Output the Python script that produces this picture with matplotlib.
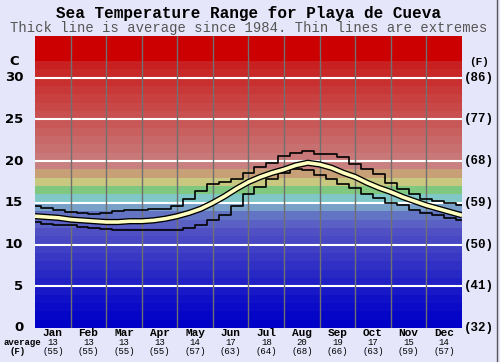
import matplotlib.pyplot as plt
import numpy as np

months = ['Jan', 'Feb', 'Mar', 'Apr', 'May', 'Jun', 'Jul', 'Aug', 'Sep', 'Oct', 'Nov', 'Dec']
avg_c = [13, 13, 13, 13, 14, 17, 18, 20, 19, 17, 15, 14]
avg_f = [55, 55, 55, 55, 57, 63, 64, 68, 66, 63, 59, 57]
c_ticks = [0, 5, 10, 15, 20, 25, 30]
f_ticks = [32, 41, 50, 59, 68, 77, 86]

# curves sampled every third of a month (month units 0..12)
avg_line = [13.4, 13.3, 13.2, 13.0, 12.9, 12.8, 12.7, 12.7, 12.8, 12.8, 12.9, 13.1,
            13.4, 13.8, 14.3, 15.0, 15.8, 16.7, 17.5, 18.1, 18.6, 19.0, 19.5, 19.8,
            19.6, 19.2, 18.6, 18.1, 17.4, 16.8, 16.3, 15.7, 15.2, 14.7, 14.3, 13.9, 13.5]
max_line = [14.6, 14.4, 14.2, 13.9, 13.8, 13.7, 13.8, 14.0, 14.1, 14.2, 14.3, 14.3,
            14.6, 15.5, 16.4, 17.2, 17.5, 17.8, 18.6, 19.3, 19.8, 20.6, 21.0, 21.2,
            20.9, 20.9, 20.5, 19.7, 19.0, 18.4, 17.4, 16.6, 16.0, 15.5, 15.2, 15.0, 14.7]
min_line = [12.7, 12.5, 12.4, 12.3, 12.1, 12.0, 11.9, 11.8, 11.8, 11.7, 11.7, 11.7,
            11.8, 12.0, 12.3, 12.9, 13.6, 14.6, 16.0, 16.9, 17.8, 18.6, 19.0, 18.9,
            18.3, 17.9, 17.3, 16.8, 16.0, 15.6, 15.0, 14.7, 14.2, 13.8, 13.5, 13.2, 13.0]

# one colour per degree band, 0..35
band_colors = ['#0000c8', '#0505c8', '#0a0ac8', '#1010c6', '#1818c6', '#2020c4',
               '#2828c4', '#3030c4', '#3838c4', '#4040c4', '#4848c4', '#5050c4',
               '#5a60c4', '#6474c4', '#78a0c8', '#80c8c8', '#80c880', '#c8c880',
               '#c8a078', '#c88080', '#c87878', '#c87070', '#c86868', '#c86060',
               '#c85858', '#c85050', '#c84848', '#c84040', '#c83838', '#c83030',
               '#c82828', '#c82020', '#cc0000', '#cc0000', '#cc0000']

bg = '#e6e6fa'
mono = 'Liberation Mono'

fig = plt.figure(figsize=(5, 3.62), dpi=100, facecolor=bg)
ax = fig.add_axes([0.07, 0.094, 0.854, 0.8066])

for i, col in enumerate(band_colors):
    ax.axhspan(i, i + 1, color=col, lw=0)
for t in c_ticks[1:]:
    ax.axhline(t, color='white', lw=1.5)
for m in range(1, 12):
    ax.axvline(m, color='#707070', lw=1)

x = np.arange(len(avg_line)) / 3.0
ax.plot(x, max_line, color='black', lw=1.2, drawstyle='steps-mid')
ax.plot(x, min_line, color='black', lw=1.2, drawstyle='steps-mid')
ax.plot(x, avg_line, color='black', lw=4.5, solid_capstyle='butt')
ax.plot(x, avg_line, color='#ffffc0', lw=2.6, solid_capstyle='butt')

ax.set_xlim(0, 12)
ax.set_ylim(0, 35)
ax.set_xticks([])
ax.set_yticks([])
for s in ax.spines.values():
    s.set_visible(False)

# axis labels drawn as text
for t in c_ticks:
    ax.text(-0.33, t, str(t), ha='right', va='center', fontsize=9.5,
            fontweight='bold', family='DejaVu Sans')
ax.text(-0.45, 31.9, 'C', ha='right', va='center', fontsize=9.5,
        fontweight='bold', family='DejaVu Sans')
for t, f in zip(c_ticks, f_ticks):
    ax.text(12.48, t, '(%d)' % f, ha='center', va='center', fontsize=9,
            fontweight='bold', family=mono)
ax.text(12.48, 31.9, '(F)', ha='center', va='center', fontsize=8,
        fontweight='bold', family=mono)

for i, name in enumerate(months):
    ax.text(i + 0.5, -0.6, name, ha='center', va='center', fontsize=8,
            fontweight='bold', family=mono)
    ax.text(i + 0.5, -1.75, str(avg_c[i]), ha='center', va='center', fontsize=6.5,
            family=mono)
    ax.text(i + 0.5, -2.85, '(%d)' % avg_f[i], ha='center', va='center', fontsize=6.5,
            family=mono)
ax.text(-0.37, -1.75, 'average', ha='center', va='center', fontsize=6.5,
        fontweight='bold', family=mono)
ax.text(-0.5, -2.85, '(F)', ha='center', va='center', fontsize=6.5,
        fontweight='bold', family=mono)

fig.text(0.497, 0.963, 'Sea Temperature Range for Playa de Cueva', ha='center',
         va='center', fontsize=11.5, fontweight='bold', family=mono)
fig.text(0.497, 0.922, 'Thick line is average since 1984. Thin lines are extremes',
         ha='center', va='center', fontsize=10, color='#555555', family=mono)

fig.add_artist(plt.Line2D([0.994, 0.994], [0, 1], color='#555555', lw=1))

fig.savefig('out.png', dpi=100, facecolor=bg)
